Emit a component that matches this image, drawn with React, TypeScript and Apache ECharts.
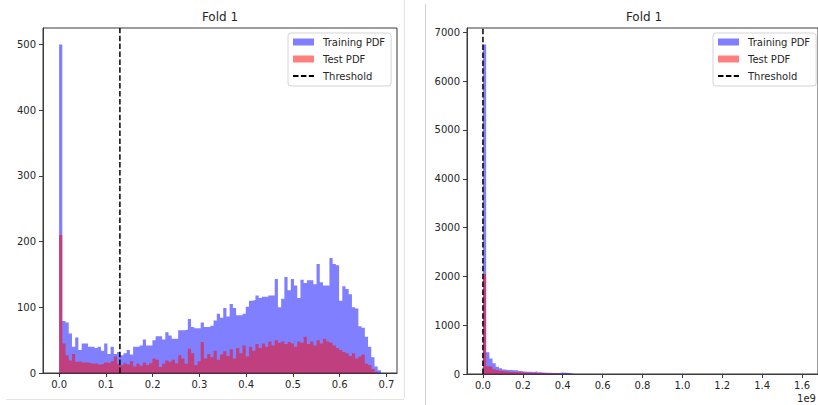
import React, { useEffect, useRef } from "react";
import * as echarts from "echarts";

// Panel titles and legend entries
const panelTitle = "Fold 1";
const trainName = "Training PDF";
const testName = "Test PDF";
const thresholdName = "Threshold";

// Left panel: 100 histogram bins spanning [0, 0.688]
const leftBinRange = [0, 0.688];
const leftTrain = [
  500, 79, 77, 60, 40, 54, 35, 45, 45, 40, 40, 38, 40, 34, 45, 29, 40, 29, 32,
  27, 30, 35, 28, 40, 40, 42, 51, 42, 42, 50, 56, 56, 51, 62, 57, 52, 52, 65,
  65, 66, 82, 70, 68, 68, 77, 70, 70, 72, 80, 90, 84, 99, 86, 105, 99, 88, 88, 90,
  101, 110, 111, 118, 114, 116, 116, 118, 118, 143, 100, 113, 146, 126, 143, 133,
  114, 142, 137, 141, 141, 135, 166, 138, 133, 133, 175, 166, 164, 110, 132, 128,
  120, 100, 98, 71, 69, 55, 40, 24, 10, 4,
];
const leftTest = [
  210, 45, 27, 19, 29, 17, 18, 16, 16, 15, 14, 15, 13, 14, 16, 15, 18, 25, 14,
  12, 15, 13, 18, 10, 14, 11, 16, 12, 15, 22, 20, 9, 14, 19, 17, 20, 15, 27,
  22, 14, 37, 30, 12, 18, 47, 22, 29, 24, 34, 20, 28, 33, 26, 36, 22, 38,
  30, 42, 25, 40, 34, 44, 38, 45, 40, 48, 42, 50, 46, 48, 44, 47, 45, 40, 48, 46,
  55, 44, 48, 42, 50, 45, 52, 48, 46, 42, 38, 35, 32, 30, 26, 30, 22, 25, 28, 14,
  12, 6, 2, 0,
];
const leftThreshold = 0.13;
const leftXTicks = [0, 0.1, 0.2, 0.3, 0.4, 0.5, 0.6, 0.7];
const leftYTicks = [0, 100, 200, 300, 400, 500];
const leftXLimits = [-0.0344, 0.7224];
const leftYMax = 525;

// Right panel: 100 bins spanning [0, 1.6] (x in units of 1e9)
const rightBinRange = [0, 1.6];
const rightTrain = [
  6750, 445, 320, 220, 150, 117, 90, 82, 80, 78, 75, 60, 50, 47, 45, 42, 55, 35,
  30, 28, 25, 22, 20, 18, 30, 25, 20, 10,
  ...new Array(72).fill(0),
];
const rightTest = [
  2050, 160, 150, 95, 80, 65, 55, 48, 42, 40, 38, 35, 30, 28, 25, 22, 20, 20,
  18, 15, 12, 10, 8, 6, 5, 3, 2, 0,
  ...new Array(72).fill(0),
];
const rightThreshold = 0;
const rightXTicks = [0, 0.2, 0.4, 0.6, 0.8, 1.0, 1.2, 1.4, 1.6];
const rightYTicks = [0, 1000, 2000, 3000, 4000, 5000, 6000, 7000];
const rightXLimits = [-0.08, 1.68];
const rightYMax = 7090;
const rightOffsetText = "1e9";

const BLUE = "rgba(0,0,255,0.5)";
const RED = "rgba(255,0,0,0.5)";
const FONT = "DejaVu Sans";
const INK = "#262626";
const SPINE = "#3a3a3a";

// Turn bin counts into step outline points: [left edge, count] ... [right edge, 0]
function stepPoints(counts: number[], range: number[]) {
  const w = (range[1] - range[0]) / counts.length;
  const pts = counts.map((c, i) => [range[0] + i * w, c]);
  pts.push([range[1], 0]);
  return pts;
}

function histSeries(name: string, color: string, idx: number, counts: number[], range: number[]) {
  return {
    name,
    type: "line",
    xAxisIndex: idx,
    yAxisIndex: idx,
    step: "end",
    symbol: "none",
    color,
    itemStyle: { color },
    lineStyle: { width: 0, color },
    areaStyle: { color, opacity: 1 },
    data: stepPoints(counts, range),
    z: 2,
  };
}

function thresholdSeries(idx: number, x: number, yMax: number) {
  return {
    name: thresholdName,
    type: "line",
    xAxisIndex: idx,
    yAxisIndex: idx,
    symbol: "none",
    color: "#000",
    lineStyle: { color: "#000", width: 1.5, type: [5.5, 2.4] },
    data: [
      [x, 0],
      [x, yMax],
    ],
    z: 5,
  };
}

function xAxis(idx: number, limits: number[], ticks: number[]) {
  return {
    type: "value",
    gridIndex: idx,
    min: limits[0],
    max: limits[1],
    splitLine: { show: false },
    axisLine: { show: true, onZero: false, lineStyle: { color: SPINE, width: 1 } },
    axisTick: { show: true, length: 4, customValues: ticks, lineStyle: { color: SPINE } },
    axisLabel: {
      customValues: ticks,
      formatter: (v: number) => v.toFixed(1),
      color: INK,
      fontFamily: FONT,
      fontSize: 10,
      margin: 6,
    },
  };
}

function yAxis(idx: number, yMax: number, ticks: number[]) {
  return {
    type: "value",
    gridIndex: idx,
    min: 0,
    max: yMax,
    splitLine: { show: false },
    axisLine: { show: true, onZero: false, lineStyle: { color: SPINE, width: 1 } },
    axisTick: { show: true, length: 4, customValues: ticks, lineStyle: { color: SPINE } },
    axisLabel: {
      customValues: ticks,
      formatter: (v: number) => String(v),
      color: INK,
      fontFamily: FONT,
      fontSize: 10,
      margin: 7,
    },
  };
}

function legend(left: number) {
  return {
    left,
    top: 33,
    orient: "vertical",
    itemWidth: 21,
    itemHeight: 7,
    itemGap: 5,
    padding: [3, 6, 4, 4],
    backgroundColor: "rgba(255,255,255,0.85)",
    borderColor: "#d4d4d4",
    borderWidth: 1,
    borderRadius: 3,
    selectedMode: false,
    textStyle: {
      fontFamily: FONT,
      fontSize: 10,
      color: INK,
      lineHeight: 12,
      padding: [0, 0, 0, 4],
    },
    data: [
      { name: trainName, icon: "rect", itemStyle: { color: BLUE, borderWidth: 0 } },
      { name: testName, icon: "rect", itemStyle: { color: RED, borderWidth: 0 } },
      { name: thresholdName, itemStyle: { opacity: 0 } },
    ],
  };
}

export default function App() {
  const ref = useRef<HTMLDivElement>(null);

  useEffect(() => {
    if (!ref.current) return;
    const chart = echarts.init(ref.current, undefined, { renderer: "svg" });
    chart.setOption({
      animation: false,
      backgroundColor: "#ffffff",
      grid: [
        { left: 43, top: 28, width: 354, height: 345, show: true, borderColor: SPINE, borderWidth: 1 },
        { left: 467, top: 28, width: 354, height: 346, show: true, borderColor: SPINE, borderWidth: 1 },
      ],
      xAxis: [xAxis(0, leftXLimits, leftXTicks), xAxis(1, rightXLimits, rightXTicks)],
      yAxis: [yAxis(0, leftYMax, leftYTicks), yAxis(1, rightYMax, rightYTicks)],
      legend: [legend(288), legend(713)],
      series: [
        histSeries(trainName, BLUE, 0, leftTrain, leftBinRange),
        histSeries(testName, RED, 0, leftTest, leftBinRange),
        thresholdSeries(0, leftThreshold, leftYMax),
        histSeries(trainName, BLUE, 1, rightTrain, rightBinRange),
        histSeries(testName, RED, 1, rightTest, rightBinRange),
        thresholdSeries(1, rightThreshold, rightYMax),
      ],
      graphic: [
        {
          type: "text",
          x: 220,
          y: 17,
          style: { text: panelTitle, align: "center", verticalAlign: "middle", font: `12px "${FONT}"`, fill: INK },
        },
        {
          type: "text",
          x: 644,
          y: 17,
          style: { text: panelTitle, align: "center", verticalAlign: "middle", font: `12px "${FONT}"`, fill: INK },
        },
        {
          type: "text",
          x: 816,
          y: 398,
          style: { text: rightOffsetText, align: "right", verticalAlign: "middle", font: `10px "${FONT}"`, fill: INK },
        },
        // panel borders and divider
        { type: "line", shape: { x1: 404.5, y1: 0, x2: 404.5, y2: 399 }, style: { stroke: "#e4e4e4", lineWidth: 1 } },
        { type: "line", shape: { x1: 6, y1: 399.5, x2: 404, y2: 399.5 }, style: { stroke: "#e4e4e4", lineWidth: 1 } },
        { type: "line", shape: { x1: 425.5, y1: 4, x2: 425.5, y2: 405 }, style: { stroke: "#d0d0d0", lineWidth: 1 } },
      ],
    });
    return () => chart.dispose();
  }, []);

  return (
    <div
      ref={ref}
      style={{ position: "absolute", left: 0, top: 0, width: 818, height: 405, background: "#fff" }}
    />
  );
}
